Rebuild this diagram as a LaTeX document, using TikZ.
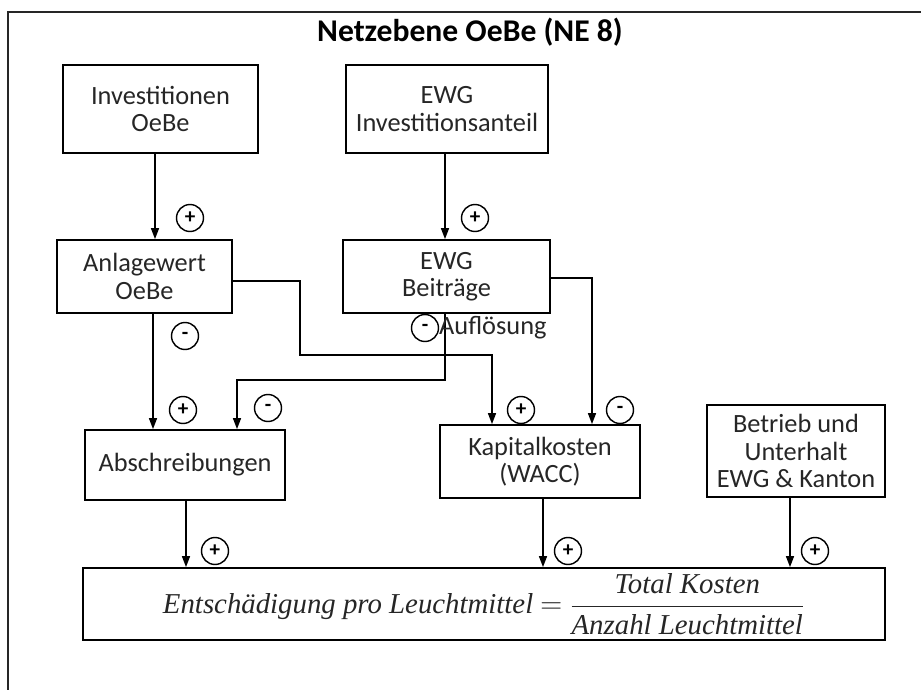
\documentclass[tikz,border=0pt]{standalone}
\usepackage{fontspec}
\newfontfamily\calib{Carlito}
\newfontfamily\formfont{Liberation Serif}
\usepackage{tikz}
\usetikzlibrary{arrows.meta}
\tikzset{
  box/.style={draw, line width=1pt, align=center, inner sep=0pt, text=black!85, font=\calib\fontsize{15}{15.5}\selectfont},
  sign/.style={circle, draw, line width=0.8pt, minimum size=0.54cm, inner sep=0pt, font=\calib\fontsize{12}{12}\selectfont\bfseries},
  arr/.style={line width=0.8pt, -{Triangle[length=2.2mm,width=1.6mm]}}
}
\begin{document}
\begin{tikzpicture}[x=0.02cm,y=-0.02cm]
\useasboundingbox (0,0) rectangle (921,690);
\draw [line width=1.6pt, black!85] (940,12) -- (8,12) -- (8,700);
\node [font=\calib\fontsize{18}{21}\selectfont\bfseries] (title) at (470,32) {Netzebene OeBe (NE 8)};
\node [box, minimum width=3.9cm, minimum height=1.76cm] (inv) at (160.5,109) {Investitionen\\OeBe};
\node [box, minimum width=4.04cm, minimum height=1.76cm] (ewgi) at (447,109) {EWG\\Investitionsanteil};
\node [box, minimum width=3.5cm, minimum height=1.46cm] (anl) at (144.5,276.5) {Anlagewert\\OeBe};
\node [box, minimum width=4.14cm, minimum height=1.46cm] (ewgb) at (446.5,276.5) {EWG\\Beiträge};
\node [box, minimum width=4cm, minimum height=1.4cm] (absch) at (185,465) {Abschreibungen};
\node [box, minimum width=4cm, minimum height=1.46cm] (kap) at (540,461.5) {Kapitalkosten\\(WACC)};
\node [box, minimum width=3.56cm, minimum height=1.84cm] (betr) at (796,451) {Betrieb und\\Unterhalt\\EWG \& Kanton};
\node [box, minimum width=16.04cm, minimum height=1.44cm, font=\formfont\itshape\fontsize{16.4}{18}\selectfont] (ent) at (484,604) {Entschädigung pro Leuchtmittel $=$ $\displaystyle\frac{\mbox{Total Kosten}}{\mbox{Anzahl Leuchtmittel}}$};
\draw [arr] (inv.south -| 155,0) -- (anl.north -| 155,0);
\draw [arr] (ewgi.south -| 445,0) -- (ewgb.north -| 445,0);
\draw [arr] (anl.south -| 153,0) -- (absch.north -| 153,0);
\draw [arr] (anl.east |- 0,281) -- (300,281) -- (300,355) -- (492,355) -- (kap.north -| 492,0);
\draw [arr] (ewgb.south -| 445,0) -- (445,380) -- (237,380) -- (absch.north -| 237,0);
\draw [arr] (ewgb.east |- 0,278) -- (592,278) -- (kap.north -| 592,0);
\draw [arr] (absch.south -| 186,0) -- (ent.north -| 186,0);
\draw [arr] (kap.south -| 543,0) -- (ent.north -| 543,0);
\draw [arr] (betr.south -| 790,0) -- (ent.north -| 790,0);
\node [sign] (s1) at (190,218) {+};
\node [sign] (s2) at (475,218) {+};
\node [sign] (s3) at (185,336) {-};
\node [sign] (s4) at (183,410) {+};
\node [sign] (s5) at (425,328) {-};
\node [anchor=west, text=black!85, font=\calib\fontsize{15}{18}\selectfont] (aufl) at (433,328) {Auflösung};
\node [sign] (s6) at (268,408) {-};
\node [sign] (s7) at (521,410) {+};
\node [sign] (s8) at (620,410) {-};
\node [sign] (s9) at (215,551) {+};
\node [sign] (s10) at (568,551) {+};
\node [sign] (s11) at (815,551) {+};
\end{tikzpicture}
\end{document}
